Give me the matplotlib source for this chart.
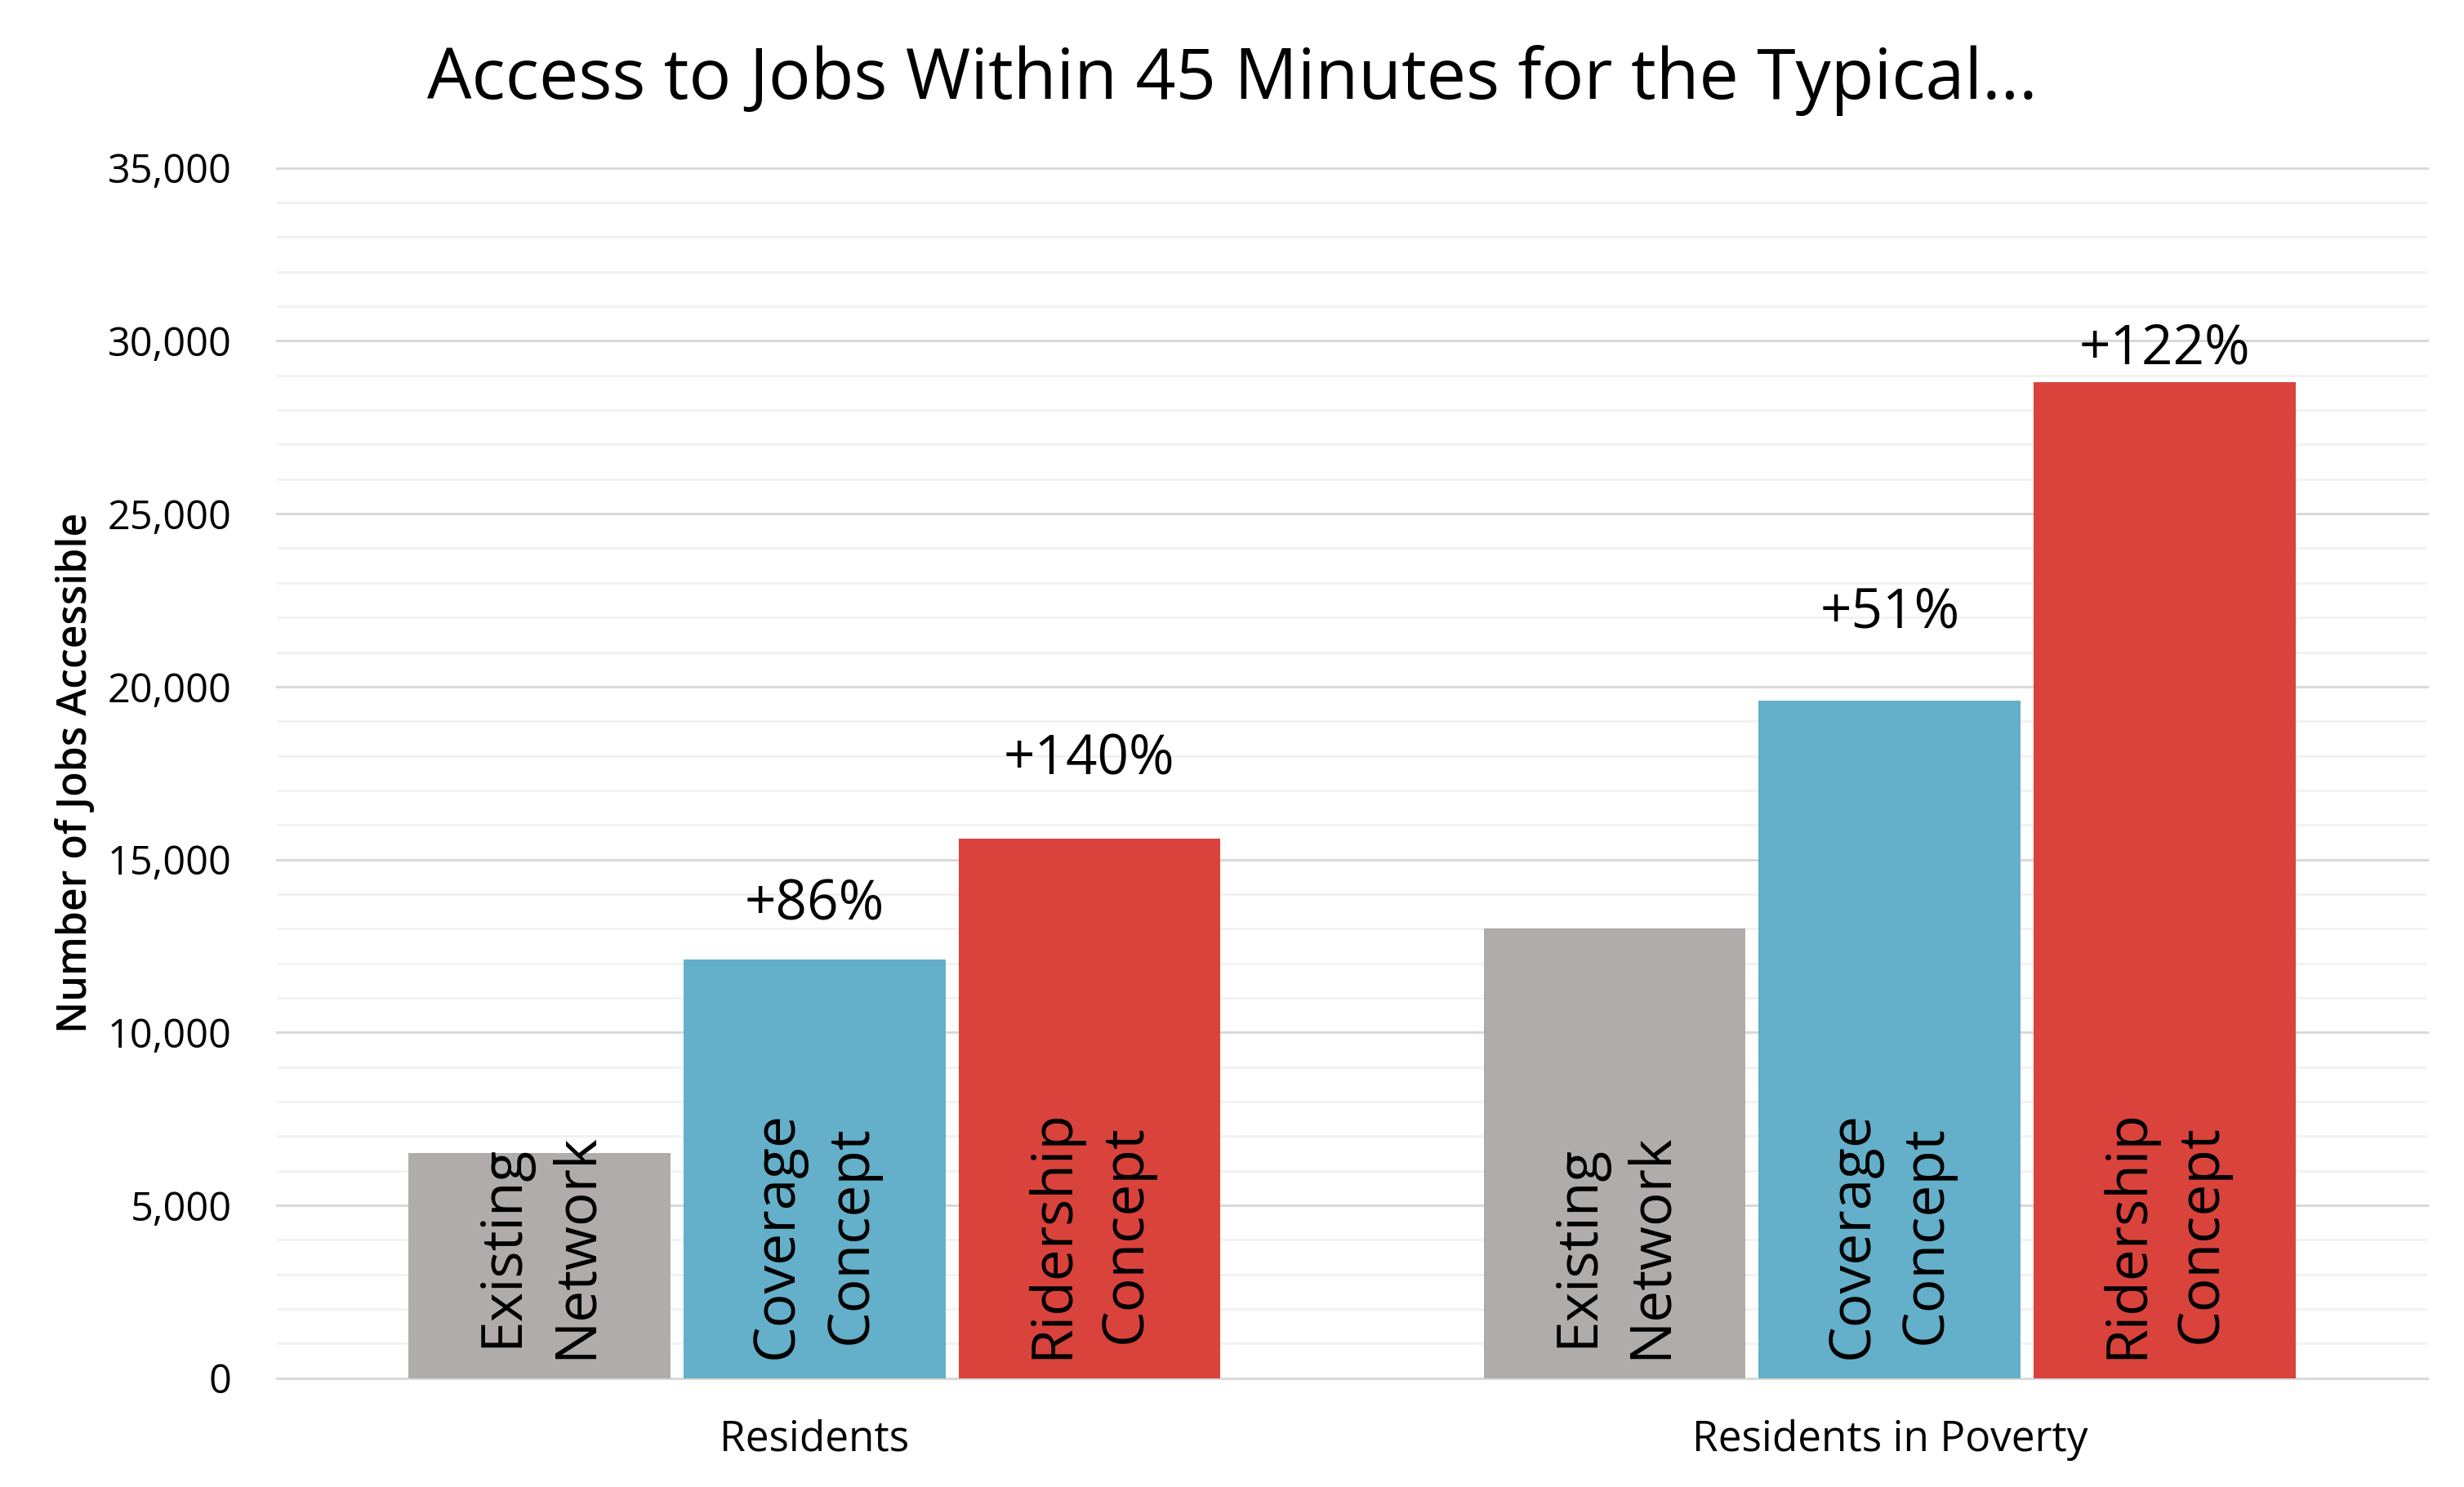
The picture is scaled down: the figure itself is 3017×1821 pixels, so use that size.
import matplotlib
matplotlib.use("Agg")
import matplotlib.pyplot as plt
from matplotlib.ticker import MultipleLocator, FuncFormatter
import numpy as np

# ---- data ----
categories = ["Residents", "Residents in Poverty"]
series_names = ["Existing\nNetwork", "Coverage\nConcept", "Ridership\nConcept"]
existing = [6500, 13000]
coverage = [12100, 19600]
ridership = [15600, 28800]
coverage_pct = ["+86%", "+51%"]
ridership_pct = ["+140%", "+122%"]
title = "Access to Jobs Within 45 Minutes for the Typical..."
ylabel = "Number of Jobs Accessible"

# ---- style ----
colors = ["#AFACAB", "#64AFC9", "#DA423C"]
FONT = ["Open Sans", "DejaVu Sans"]
plt.rcParams["font.family"] = FONT
DPI = 100
PX2PT = 72.0 / DPI

fig = plt.figure(figsize=(30.17, 18.21), dpi=DPI)
ax = fig.add_axes([339 / 3017, (1821 - 1687.7) / 1821,
                   (2972 - 339) / 3017, (1687.7 - 205.7) / 1821])

x = np.arange(len(categories))
width = 0.2436
step = 0.2557
series = [existing, coverage, ridership]
bars = []
for i, (vals, col) in enumerate(zip(series, colors)):
    b = ax.bar(x + (i - 1) * step, vals, width=width, color=col, zorder=3,
               linewidth=0)
    bars.append(b)

ax.set_xlim(-0.5, 1.5)
ax.set_ylim(0, 35000)
ax.yaxis.set_major_locator(MultipleLocator(5000))
ax.yaxis.set_minor_locator(MultipleLocator(1000))
ax.yaxis.set_major_formatter(FuncFormatter(lambda v, p: f"{int(v):,}"))
ax.grid(which="minor", axis="y", color="#F2F2F2", linewidth=3 * PX2PT, zorder=0)
ax.grid(which="major", axis="y", color="#D9D9D9", linewidth=3 * PX2PT, zorder=1)
for gl in ax.get_ygridlines():
    gl.set_clip_on(False)
ax.set_axisbelow(True)
for s in ax.spines.values():
    s.set_visible(False)

ax.set_xticks(x)
ax.set_xticklabels(categories, fontsize=37)
ax.tick_params(axis="x", length=0, pad=36)
ax.tick_params(axis="y", which="both", length=0, pad=40, labelsize=35)
ax.set_ylabel(ylabel, fontsize=36, fontweight="semibold", labelpad=10)

# in-bar labels
for i, b in enumerate(bars):
    for rect in b:
        cx = rect.get_x() + rect.get_width() / 2
        ax.annotate(series_names[i], xy=(cx, 0), xytext=(0, 24 * PX2PT),
                    textcoords="offset points", rotation=90, ha="center",
                    va="bottom", multialignment="center", fontsize=50,
                    linespacing=1.38, zorder=5)

# percentage labels
cov_off = [49, 89]
rid_off = [79, 23]
for j in range(len(categories)):
    for b, labels, offs in ((bars[1], coverage_pct, cov_off),
                            (bars[2], ridership_pct, rid_off)):
        rect = b[j]
        cx = rect.get_x() + rect.get_width() / 2
        ax.annotate(labels[j], xy=(cx, rect.get_height()),
                    xytext=(0, offs[j] * PX2PT), textcoords="offset points",
                    ha="center", va="baseline", fontsize=48.5)

fig.text(0.5, 1 - 121 / 1821, title, ha="center", va="baseline", fontsize=62)

fig.savefig("out.png", dpi=DPI, facecolor="white")
